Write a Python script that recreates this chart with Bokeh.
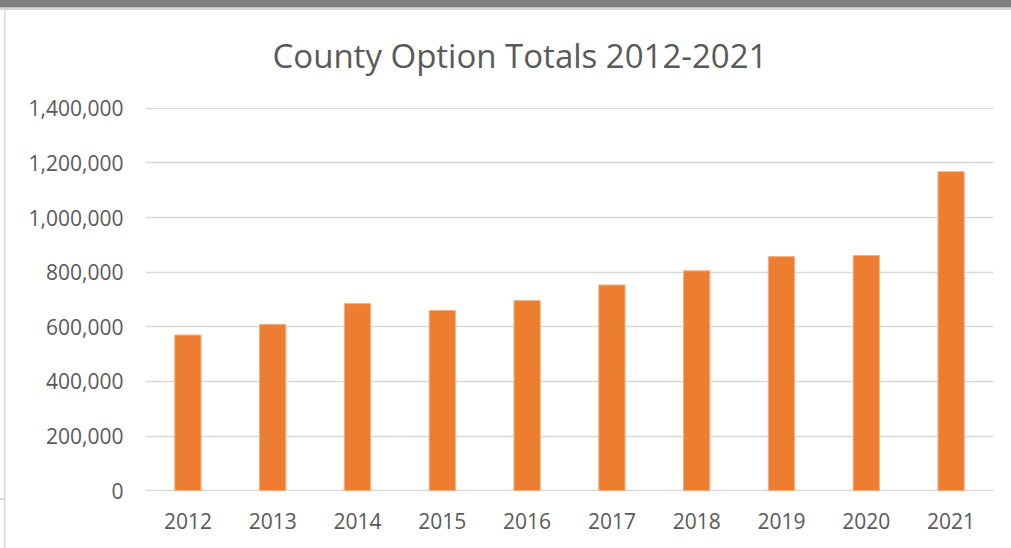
from bokeh.plotting import figure
from bokeh.models import NumeralTickFormatter, FixedTicker
from bokeh.embed import file_html
from bokeh.resources import INLINE

title = "County Option Totals 2012-2021"
years = ["2012", "2013", "2014", "2015", "2016", "2017", "2018", "2019", "2020", "2021"]
totals = [570000, 609000, 685000, 660000, 696000, 753000, 805000, 857000, 861000, 1168000]
y_ticks = [0, 200000, 400000, 600000, 800000, 1000000, 1200000, 1400000]

FONT = "Open Sans"
TXT = "#595959"
W, H = 1011, 548

p = figure(x_range=years, y_range=(-3000, 1403000), width=W, height=H,
           output_backend="svg", toolbar_location=None, tools="",
           min_border_left=145, min_border_right=W - 993, min_border_top=107,
           min_border_bottom=H - 491)

p.title.text = title
p.title.align = "left"
p.title.offset = 127
p.title.standoff = 59
p.title.text_font = FONT
p.title.text_font_size = "33px"
p.title.text_font_style = "normal"
p.title.text_color = TXT

p.vbar(x=years, top=totals, width=0.31, fill_color="#ED7D31",
       line_color="#F4B183", line_width=1)

p.outline_line_color = None
p.xgrid.grid_line_color = None
p.ygrid.grid_line_color = "#D9D9D9"
p.ygrid.grid_line_width = 1.5
p.yaxis.ticker = FixedTicker(ticks=y_ticks)
p.yaxis.formatter = NumeralTickFormatter(format="0,0")

for ax in (p.xaxis[0], p.yaxis[0]):
    ax.axis_line_color = None
    ax.major_tick_line_color = None
    ax.minor_tick_line_color = None
    ax.major_label_text_font = FONT
    ax.major_label_text_font_size = "21px"
    ax.major_label_text_color = TXT

p.yaxis.major_label_standoff = 16
p.xaxis.major_label_standoff = 15

# window chrome decorations (top bar, left edge) drawn as page background
p.border_fill_color = None
p.background_fill_color = "white"
p.styles = {
    "background-color": "white",
    "background-image": ("linear-gradient(#7F7F7F,#7F7F7F), linear-gradient(#D6D6D6,#D6D6D6), "
                         "linear-gradient(#D9D9D9,#D9D9D9), linear-gradient(#D9D9D9,#D9D9D9)"),
    "background-size": "100% 7.5px, 100% 2px, 1.5px 100%, 5px 2px",
    "background-position": "0 0, 0 7.5px, 3.5px 9.5px, 0 497.5px",
    "background-repeat": "no-repeat",
}

open("out.html", "w").write(file_html(p, INLINE))
